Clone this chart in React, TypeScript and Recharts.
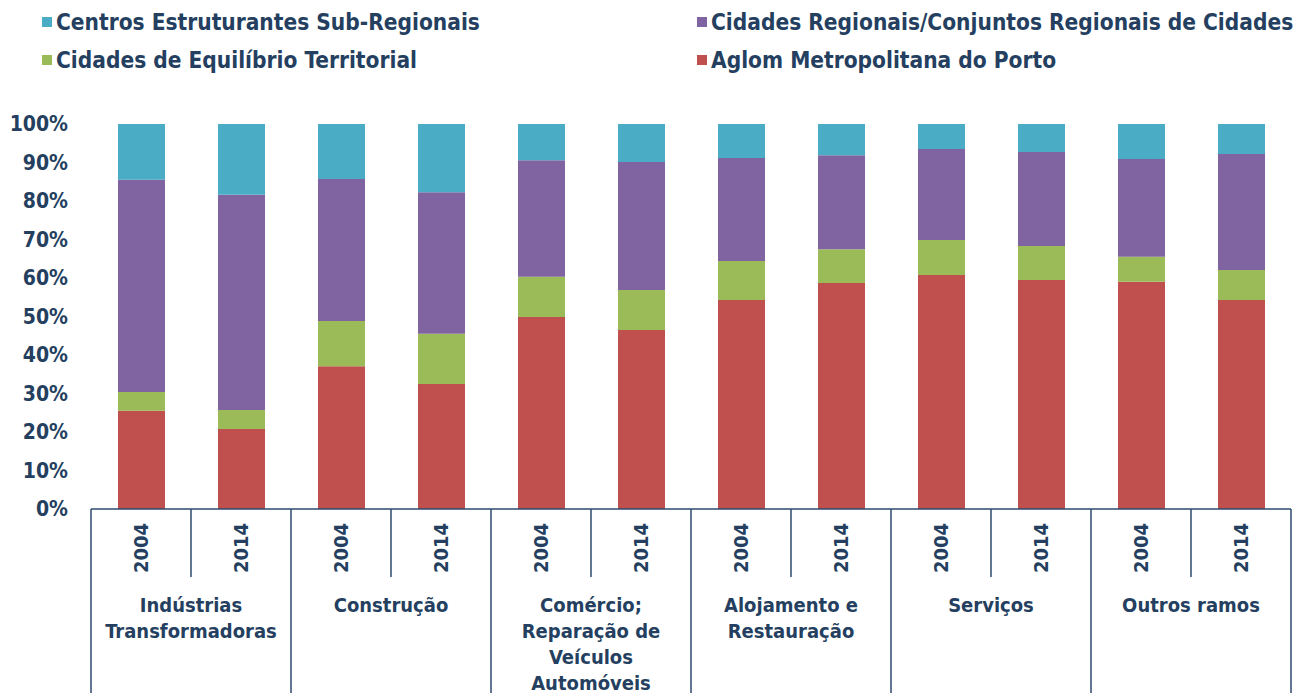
import React from "react";
import { BarChart, Bar, XAxis, YAxis } from "recharts";

const groups: string[][] = [
  ["Indústrias", "Transformadoras"],
  ["Construção"],
  ["Comércio;", "Reparação de", "Veículos", "Automóveis"],
  ["Alojamento e", "Restauração"],
  ["Serviços"],
  ["Outros ramos"],
];
const years = ["2004", "2014"];

const aglom = [25.5, 20.8, 37.1, 32.5, 49.9, 46.5, 54.3, 58.7, 60.8, 59.5, 59.0, 54.3];
const equilibrio = [4.9, 4.9, 11.7, 13.0, 10.4, 10.4, 10.1, 8.8, 9.1, 8.8, 6.5, 7.8];
const regionais = [55.1, 55.9, 36.9, 36.8, 30.3, 33.2, 26.8, 24.4, 23.6, 24.4, 25.4, 30.1];
const centros = [14.5, 18.4, 14.3, 17.7, 9.4, 9.9, 8.8, 8.1, 6.5, 7.3, 9.1, 7.8];

const yTicks = [0, 10, 20, 30, 40, 50, 60, 70, 80, 90, 100];

const series = [
  { key: "aglom", name: "Aglom Metropolitana do Porto", color: "#C0504D" },
  { key: "equilibrio", name: "Cidades de Equilíbrio Territorial", color: "#9BBB59" },
  { key: "regionais", name: "Cidades Regionais/Conjuntos Regionais de Cidades", color: "#8064A2" },
  { key: "centros", name: "Centros Estruturantes Sub-Regionais", color: "#4BACC6" },
];

const data = aglom.map((v, i) => ({
  idx: i,
  year: years[i % 2],
  group: Math.floor(i / 2),
  aglom: v,
  equilibrio: equilibrio[i],
  regionais: regionais[i],
  centros: centros[i],
}));

const TEXT = "#243f60";
const LINE = "#2c4a6e";
const FONT = "'DejaVu Sans Condensed', 'DejaVu Sans', sans-serif";

const XTick = (props: any) => {
  const { x, y, payload } = props;
  const i = payload.index ?? payload.value;
  const d = data[i];
  const half = 50;
  const els: React.ReactNode[] = [];
  if (i % 2 === 0) {
    els.push(<line key="l" x1={x - half} x2={x - half} y1={y} y2={y + 190} stroke={LINE} strokeWidth={1.5} />);
    const lines = groups[d.group];
    lines.forEach((ln, k) => {
      els.push(
        <text key={"g" + k} x={x + half} y={y + 96 + k * 26} textAnchor="middle" dominantBaseline="central"
          fill={TEXT} fontSize={20} fontWeight="bold" fontFamily={FONT}>{ln}</text>
      );
    });
  } else {
    els.push(<line key="l" x1={x - half} x2={x - half} y1={y} y2={y + 68} stroke={LINE} strokeWidth={1.5} />);
    if (i === data.length - 1) {
      els.push(<line key="r" x1={x + half} x2={x + half} y1={y} y2={y + 190} stroke={LINE} strokeWidth={1.5} />);
    }
  }
  els.push(
    <text key="y" x={0} y={0} transform={`translate(${x},${y + 39}) rotate(-90)`} textAnchor="middle"
      dominantBaseline="central" fill={TEXT} fontSize={20} fontWeight="bold" fontFamily={FONT}>{d.year}</text>
  );
  return <g>{els}</g>;
};

const legendItems = [
  { s: series[3], left: 42, top: 8 },
  { s: series[2], left: 697, top: 8 },
  { s: series[1], left: 42, top: 46 },
  { s: series[0], left: 697, top: 46 },
];

export default function App() {
  return (
    <div style={{ position: "absolute", left: 0, top: 0, width: 1302, height: 693, background: "#fff", overflow: "hidden" }}>
      {legendItems.map(({ s, left, top }) => (
        <div key={s.key} style={{ position: "absolute", left, top, height: 28, display: "flex", alignItems: "center",
          fontFamily: FONT, fontWeight: "bold", fontSize: 22.5, color: TEXT, whiteSpace: "nowrap" }}>
          <span style={{ display: "inline-block", width: 10, height: 10, background: s.color, marginRight: 4 }} />
          {s.name}
        </div>
      ))}
      <BarChart width={1302} height={693} data={data} margin={{ top: 124, right: 11, left: 0, bottom: 0 }} barCategoryGap={0}>
        <YAxis type="number" domain={[0, 100]} ticks={yTicks} width={91} axisLine={false} tickLine={false}
          tickSize={21} tickMargin={2} interval={0}
          tickFormatter={(v: number) => `${v}%`}
          tick={{ fill: TEXT, fontSize: 21, fontWeight: "bold", fontFamily: FONT }} />
        <XAxis dataKey="idx" type="category" height={184} interval={0} tickLine={false} tickSize={0} tickMargin={0}
          axisLine={{ stroke: LINE, strokeWidth: 1.5 }} tick={<XTick />} />
        {series.map((s) => (
          <Bar key={s.key} dataKey={s.key} name={s.name} stackId="a" fill={s.color} barSize={47} isAnimationActive={false} />
        ))}
      </BarChart>
    </div>
  );
}
